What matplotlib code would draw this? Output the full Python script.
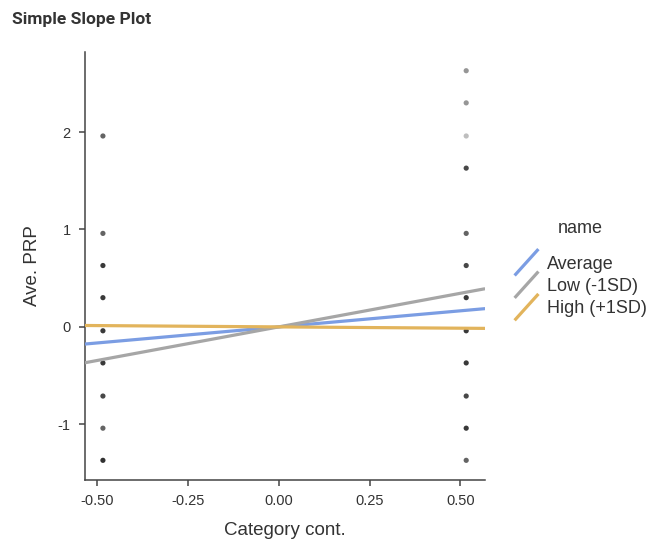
import numpy as np
import matplotlib.pyplot as plt
from matplotlib.lines import Line2D
from matplotlib.legend_handler import HandlerBase

plt.rcParams['font.family'] = ['Liberation Sans', 'DejaVu Sans']
plt.rcParams['axes.unicode_minus'] = False

# raw points (category position, Ave. PRP, number of overlapping obs)
left_x = -0.484
left_y = [1.96, 0.96, 0.63, 0.30, -0.04, -0.37, -0.71, -1.04, -1.37]
left_n = [2, 2, 4, 4, 4, 4, 3, 2, 5]
right_x = 0.516
right_y = [2.63, 2.30, 1.96, 1.63, 0.96, 0.63, 0.30, -0.04, -0.37, -0.71, -1.04, -1.37]
right_n = [1, 1, 0.5, 3, 2, 3, 4, 4, 4, 3, 4, 2]

# simple slopes
names = ["Average", "Low (-1SD)", "High (+1SD)"]
slopes = [0.33, 0.69, -0.027]
intercepts = [0.0, 0.0, 0.0]
colors = ["#7b9de3", "#a6a6a6", "#e2b45c"]

xlim = (-0.534, 0.568)
ylim = (-1.57, 2.82)


class DiagHandler(HandlerBase):
    def create_artists(self, legend, orig, xd, yd, w, h, fs, trans):
        ln = Line2D([xd, xd + w], [yd - 0.45 * h, yd + 1.45 * h], color=orig.get_color(),
                    lw=orig.get_linewidth(), transform=trans)
        return [ln]


fig = plt.figure(figsize=(6.52, 5.44), dpi=100)
ax = fig.add_axes([0.130, 0.118, 0.614, 0.786])

a = 0.45
for xs, ys, ns in [(left_x, left_y, left_n), (right_x, right_y, right_n)]:
    for y, n in zip(ys, ns):
        g = (1 - a) ** n
        shade = 0.15 + 0.8 * g
        ax.scatter([xs], [y], s=14, color=(shade, shade, shade), edgecolors='none', zorder=2)

xx = np.array(xlim)
handles = []
for nm, b, c0, col in zip(names, slopes, intercepts, colors):
    l, = ax.plot(xx, c0 + b * xx, color=col, lw=2.3, label=nm, zorder=3, solid_capstyle='butt')
    handles.append(l)

ax.set_xlim(xlim)
ax.set_ylim(ylim)
ax.set_xticks([-0.5, -0.25, 0, 0.25, 0.5])
ax.set_xticklabels(["-0.50", "-0.25", "0.00", "0.25", "0.50"])
ax.set_yticks([-1, 0, 1, 2])
for s in ['top', 'right']:
    ax.spines[s].set_visible(False)
for s in ['left', 'bottom']:
    ax.spines[s].set_color('#444444')
    ax.spines[s].set_linewidth(1.1)
ax.tick_params(length=4, width=1.1, color='#444444', labelsize=10.5, labelcolor='#333333', pad=6)
ax.set_xlabel("Category cont.", fontsize=13.5, color='#333333', labelpad=10)
ax.set_ylabel("Ave. PRP", fontsize=13.5, color='#333333', labelpad=12)

leg = fig.legend(handles=handles, loc='upper left', bbox_to_anchor=(0.766, 0.560),
                 frameon=False, fontsize=13, handlelength=1.2, handletextpad=0.55,
                 labelspacing=0.3, handler_map={Line2D: DiagHandler()})
for t in leg.get_texts():
    t.set_color('#333333')
fig.text(558 / 652, 1 - 228 / 544, "name", fontsize=13, color='#333333', va='center')

fig.text(0.018, 0.965, "Simple Slope Plot", fontsize=12.5, fontweight='bold', color='#333333',
         va='center', family=['Roboto', 'DejaVu Sans'])

fig.savefig("out.png", dpi=100)
